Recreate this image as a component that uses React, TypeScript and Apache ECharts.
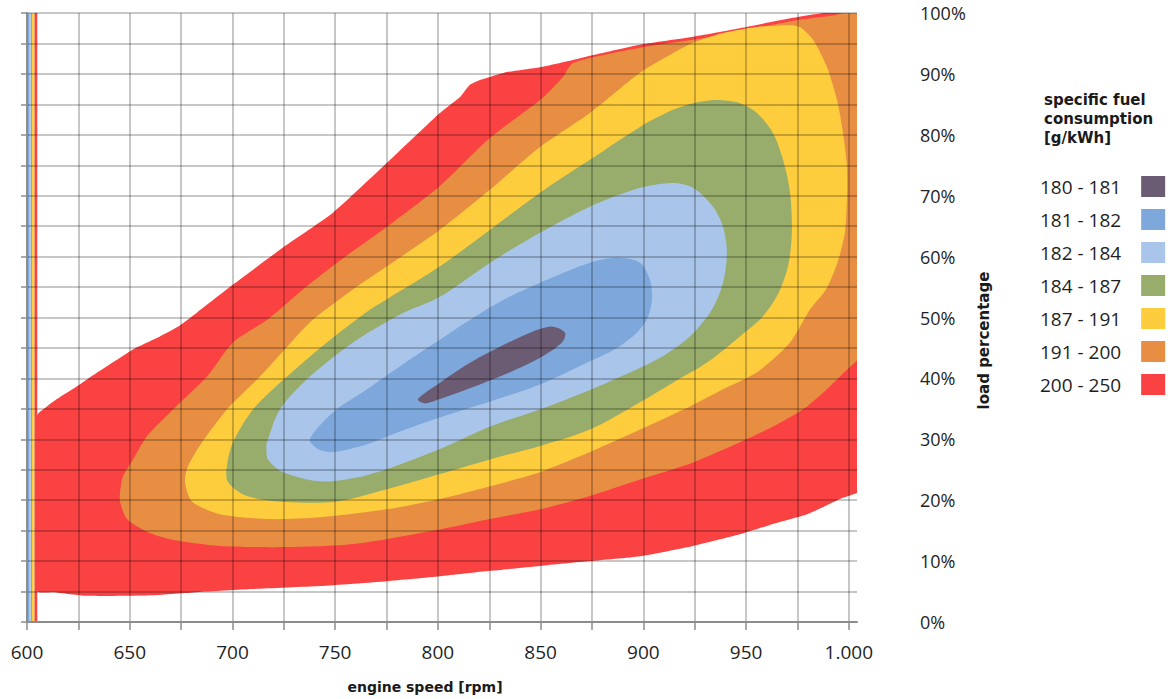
import React, { useEffect, useRef } from 'react';
import * as echarts from 'echarts';

// ---- axes ----
const RPM_MIN = 600;
const RPM_MAX = 1004;
const RPM_STEP = 25;
const LOAD_MIN = 0;
const LOAD_MAX = 100;
const LOAD_STEP = 5;

const rpmTickValues = [600, 625, 650, 675, 700, 725, 750, 775, 800, 825, 850, 875, 900, 925, 950, 975, 1000];
const rpmLabelValues = [600, 650, 700, 750, 800, 850, 900, 950, 1000];
const rpmLabels = ['600', '650', '700', '750', '800', '850', '900', '950', '1.000'];
const loadLabelValues = [0, 10, 20, 30, 40, 50, 60, 70, 80, 90, 100];
const loadLabels = ['0%', '10%', '20%', '30%', '40%', '50%', '60%', '70%', '80%', '90%', '100%'];

// ---- bands (outer boundary of each fuel consumption band, [rpm, load %]) ----
const bandNames = ['200 - 250', '191 - 200', '187 - 191', '184 - 187', '182 - 184', '181 - 182', '180 - 181'];
const bandColors = ['#fb4242', '#e88e43', '#fdcd3e', '#98ac6b', '#a9c5ea', '#7ea8dc', '#6b5b73'];

const band200to250: [number, number][] = [
  [604.9, 33.9], [609.7, 35.4], [614.6, 36.6], [624.3, 38.7], [630.7, 40.2], [645.3, 43.4], [653.5, 45.1],
  [664.7, 46.9], [673.0, 48.4], [682.7, 50.8], [700.3, 55.4], [724.6, 61.5], [748.9, 67.2], [775.2, 75.4],
  [800.0, 83.3], [805.9, 84.9], [810.8, 86.2], [815.6, 88.2], [820.5, 89.0], [825.4, 89.5], [833.6, 90.3],
  [849.7, 91.1], [865.8, 92.3], [875.5, 93.1], [898.4, 94.8], [924.2, 96.1], [947.0, 97.5], [972.8, 99.2],
  [987.4, 100], [1012, 101], [1012, 22.8], [995.7, 20.2], [979.7, 17.7], [963.1, 16.1], [947.0, 14.4],
  [924.2, 12.5], [898.4, 10.8], [874.0, 10.0], [849.7, 9.2], [825.4, 8.4], [801.0, 7.5], [775.2, 6.7],
  [742.6, 5.9], [710.0, 5.4], [682.7, 4.9], [661.3, 4.4], [629.2, 4.3], [612.7, 4.9], [604.9, 5.1],
];

const band191to200: [number, number][] = [
  [645.3, 21.3], [646.7, 23.9], [651.6, 26.7], [658.4, 30.5], [671.1, 34.9], [687.6, 40.3], [700.3, 45.9],
  [717.3, 49.7], [734.3, 54.6], [750.9, 59.0], [775.2, 64.9], [801.0, 71.6], [825.4, 79.5], [849.7, 85.7],
  [860.9, 89.5], [865.8, 91.8], [898.4, 94.3], [924.2, 95.6], [947.0, 97.0], [972.8, 98.7], [990.8, 99.5],
  [1012, 100.2], [1012, 46.8], [995.7, 40.3], [979.7, 35.4], [963.1, 32.1], [947.0, 29.5], [924.2, 26.2],
  [898.4, 23.4], [874.0, 20.7], [849.7, 18.5], [825.4, 16.9], [801.0, 15.2], [758.7, 12.8], [726.6, 12.3],
  [693.9, 12.5], [669.6, 13.6], [658.4, 14.8], [648.7, 16.9], [645.3, 19.7],
];

const band187to191: [number, number][] = [
  [676.9, 23.0], [678.4, 25.6], [685.2, 29.5], [697.3, 34.9], [713.4, 40.3], [728.5, 45.9], [739.4, 49.7],
  [758.7, 54.6], [775.2, 58.4], [801.0, 64.4], [825.4, 71.0], [849.7, 78.0], [874.0, 83.6], [898.4, 90.2],
  [914.4, 93.4], [924.2, 95.1], [938.8, 96.7], [955.3, 97.7], [971.4, 98.0], [976.2, 97.7], [982.6, 95.6],
  [989.4, 91.1], [994.3, 85.7], [997.2, 80.3], [999.1, 74.8], [999.1, 69.3], [998.1, 63.9], [994.7, 59.2],
  [988.9, 54.6], [981.1, 51.3], [971.4, 45.9], [955.3, 41.0], [938.8, 38.2], [922.7, 35.4], [898.4, 31.6],
  [874.0, 27.9], [849.7, 24.6], [825.4, 22.3], [801.0, 20.2], [775.2, 18.5], [742.6, 17.2], [718.3, 16.9],
  [693.9, 17.7], [680.3, 19.8],
];

const band184to187: [number, number][] = [
  [697.3, 25.6], [700.3, 29.5], [710.0, 34.9], [726.6, 40.3], [746.0, 45.9], [767.0, 51.3], [775.2, 53.0],
  [801.0, 58.4], [825.4, 64.4], [849.7, 70.5], [874.0, 75.9], [898.4, 81.3], [914.4, 84.1], [924.2, 85.2],
  [935.8, 85.7], [947.0, 85.2], [955.3, 83.6], [963.1, 80.3], [968.0, 75.9], [971.4, 70.5], [972.3, 63.9],
  [970.4, 58.4], [965.5, 53.8], [957.7, 50.0], [947.0, 46.9], [931.0, 42.6], [914.4, 39.3], [898.4, 36.1],
  [874.0, 31.6], [849.7, 28.9], [825.4, 26.7], [801.0, 24.3], [775.2, 21.8], [750.9, 19.8], [726.6, 19.7],
  [707.1, 20.7], [697.8, 23.0],
];

const band182to184: [number, number][] = [
  [716.5, 28.5], [716.8, 29.5], [723.1, 34.9], [737.7, 40.3], [758.7, 45.9], [781.6, 50.5], [801.0, 53.4],
  [825.4, 59.0], [849.7, 63.9], [874.0, 68.2], [898.4, 71.3], [914.4, 72.1], [924.2, 71.3], [933.9, 68.2],
  [938.8, 64.9], [940.7, 60.7], [938.8, 55.7], [933.4, 51.3], [922.7, 46.9], [906.6, 43.1], [882.3, 39.3],
  [865.8, 37.0], [849.7, 34.9], [825.4, 32.1], [801.0, 28.4], [775.2, 25.1], [758.7, 23.6], [742.6, 23.1],
  [724.6, 24.6], [717.3, 26.7],
];

const band181to182: [number, number][] = [
  [737.7, 30.0], [748.9, 34.4], [765.5, 38.2], [781.6, 42.0], [797.6, 45.6], [814.2, 49.3], [830.2, 52.6],
  [849.7, 55.7], [874.0, 59.0], [887.2, 59.8], [898.4, 59.0], [903.2, 56.2], [904.2, 53.0], [901.8, 49.7],
  [895.9, 47.2], [886.2, 44.8], [874.0, 42.8], [849.7, 39.0], [825.4, 36.2], [801.0, 33.6], [781.6, 31.3],
  [765.5, 29.2], [748.9, 27.9], [741.6, 28.4],
];

const band180to181: [number, number][] = [
  [790.3, 36.6], [801.0, 39.3], [814.2, 42.3], [830.2, 45.2], [846.3, 47.7], [856.0, 48.5], [861.9, 47.5],
  [860.4, 45.9], [849.7, 43.4], [833.6, 40.8], [814.2, 38.2], [801.0, 36.6], [793.7, 35.9],
];

const bandPolygons = [band200to250, band191to200, band187to191, band184to187, band182to184, band181to182, band180to181];

// thin artefact stripes at the left edge (rpm range per band, full load range)
const leftEdgeStripes: ([number, number] | null)[] = [
  [603.7, 605.0], [603.3, 603.7], [602.4, 603.3], [601.8, 602.4], [601.2, 601.8], [600.5, 601.2], null,
];

const bandSmooth = [0.18, 0.25, 0.25, 0.3, 0.3, 0.3, 0.3];

const legendTitle = 'specific fuel\nconsumption\n[g/kWh]';
const xName = 'engine speed [rpm]';
const yName = 'load percentage';

const tickFont = "'Open Sans', 'Noto Sans', sans-serif";
const titleFont = "'DejaVu Sans', Verdana, sans-serif";

function polygonsForBand(i: number): [number, number][][] {
  const list: [number, number][][] = [bandPolygons[i]];
  const s = leftEdgeStripes[i];
  if (s) {
    list.push([[s[0], LOAD_MIN], [s[1], LOAD_MIN], [s[1], LOAD_MAX], [s[0], LOAD_MAX]]);
  }
  return list;
}

export default function App() {
  const ref = useRef<HTMLDivElement>(null);

  useEffect(() => {
    if (!ref.current) return;
    const chart = echarts.init(ref.current, null, { renderer: 'svg' });

    const gridLine = { show: true, lineStyle: { color: 'rgba(0,0,0,0.22)', width: 2 } };

    const series = bandNames.map((name, i) => {
      const polys = polygonsForBand(i);
      return {
        type: 'custom',
        name,
        coordinateSystem: 'cartesian2d',
        xAxisIndex: 0,
        yAxisIndex: 0,
        clip: true,
        silent: true,
        z: 2,
        itemStyle: { color: bandColors[i] },
        data: polys.map((p) => [p[0][0], p[0][1]]),
        renderItem: (params: any, api: any) => {
          const poly = polys[params.dataIndex];
          const pts = poly.map((pt) => api.coord(pt));
          return {
            type: 'polygon',
            shape: { points: pts, smooth: params.dataIndex === 0 ? bandSmooth[i] : 0 },
            style: { fill: bandColors[i] },
          };
        },
      };
    });

    const option: any = {
      animation: false,
      backgroundColor: '#ffffff',
      title: {
        text: legendTitle,
        left: 1044,
        top: 90,
        padding: 0,
        textStyle: {
          fontFamily: titleFont,
          fontSize: 15,
          fontWeight: 'bold',
          lineHeight: 19,
          color: '#1a1a1a',
        },
      },
      legend: {
        orient: 'vertical',
        left: 1040,
        top: 176,
        padding: 0,
        align: 'right',
        icon: 'rect',
        itemWidth: 24,
        itemHeight: 21,
        itemGap: 12,
        selectedMode: false,
        data: [...bandNames].reverse(),
        textStyle: {
          fontFamily: tickFont,
          fontSize: 19,
          color: '#1f1f1f',
          padding: [0, 15, 0, 0],
        },
      },
      grid: { left: 27, right: 319, top: 13, bottom: 76 },
      xAxis: {
        type: 'value',
        min: RPM_MIN,
        max: RPM_MAX,
        interval: RPM_STEP,
        z: 5,
        name: xName,
        nameLocation: 'middle',
        nameGap: 58,
        nameTextStyle: {
          fontFamily: titleFont,
          fontSize: 14,
          fontWeight: 'bold',
          color: '#1a1a1a',
          padding: [0, 34, 0, 0],
        },
        axisLine: { show: true, lineStyle: { color: '#8c8c8c', width: 2 } },
        axisTick: { show: true, length: 8, customValues: rpmTickValues, lineStyle: { color: '#8c8c8c', width: 1.5 } },
        axisLabel: {
          customValues: rpmLabelValues,
          margin: 20,
          fontFamily: tickFont,
          fontSize: 19,
          color: '#1f1f1f',
          formatter: (v: number) => {
            const k = rpmLabelValues.indexOf(v);
            return k >= 0 ? rpmLabels[k] : '';
          },
        },
        splitLine: gridLine,
      },
      yAxis: [
        {
          type: 'value',
          position: 'left',
          min: LOAD_MIN,
          max: LOAD_MAX,
          interval: LOAD_STEP,
          z: 5,
          axisLine: { show: true, lineStyle: { color: '#8c8c8c', width: 2 } },
          axisTick: { show: true, length: 6, lineStyle: { color: '#8c8c8c', width: 1.5 } },
          axisLabel: { show: false },
          splitLine: gridLine,
        },
        {
          type: 'value',
          position: 'right',
          min: LOAD_MIN,
          max: LOAD_MAX,
          interval: LOAD_STEP,
          z: 5,
          name: yName,
          nameLocation: 'middle',
          nameRotate: 90,
          nameGap: 119,
          nameTextStyle: {
            fontFamily: titleFont,
            fontSize: 15,
            fontWeight: 'bold',
            color: '#1a1a1a',
            padding: [0, 46, 0, 0],
          },
          axisLine: { show: false },
          axisTick: { show: false },
          splitLine: { show: false },
          axisLabel: {
            customValues: loadLabelValues,
            margin: 63,
            padding: [8, 0, 0, 0],
            fontFamily: tickFont,
            fontSize: 18,
            color: '#1f1f1f',
            formatter: (v: number) => {
              const k = loadLabelValues.indexOf(v);
              return k >= 0 ? loadLabels[k] : '';
            },
          },
        },
      ],
      series,
    };

    chart.setOption(option);
    return () => chart.dispose();
  }, []);

  return (
    <div
      ref={ref}
      style={{ position: 'fixed', left: 0, top: 0, width: 1176, height: 699, background: '#fff' }}
    />
  );
}
